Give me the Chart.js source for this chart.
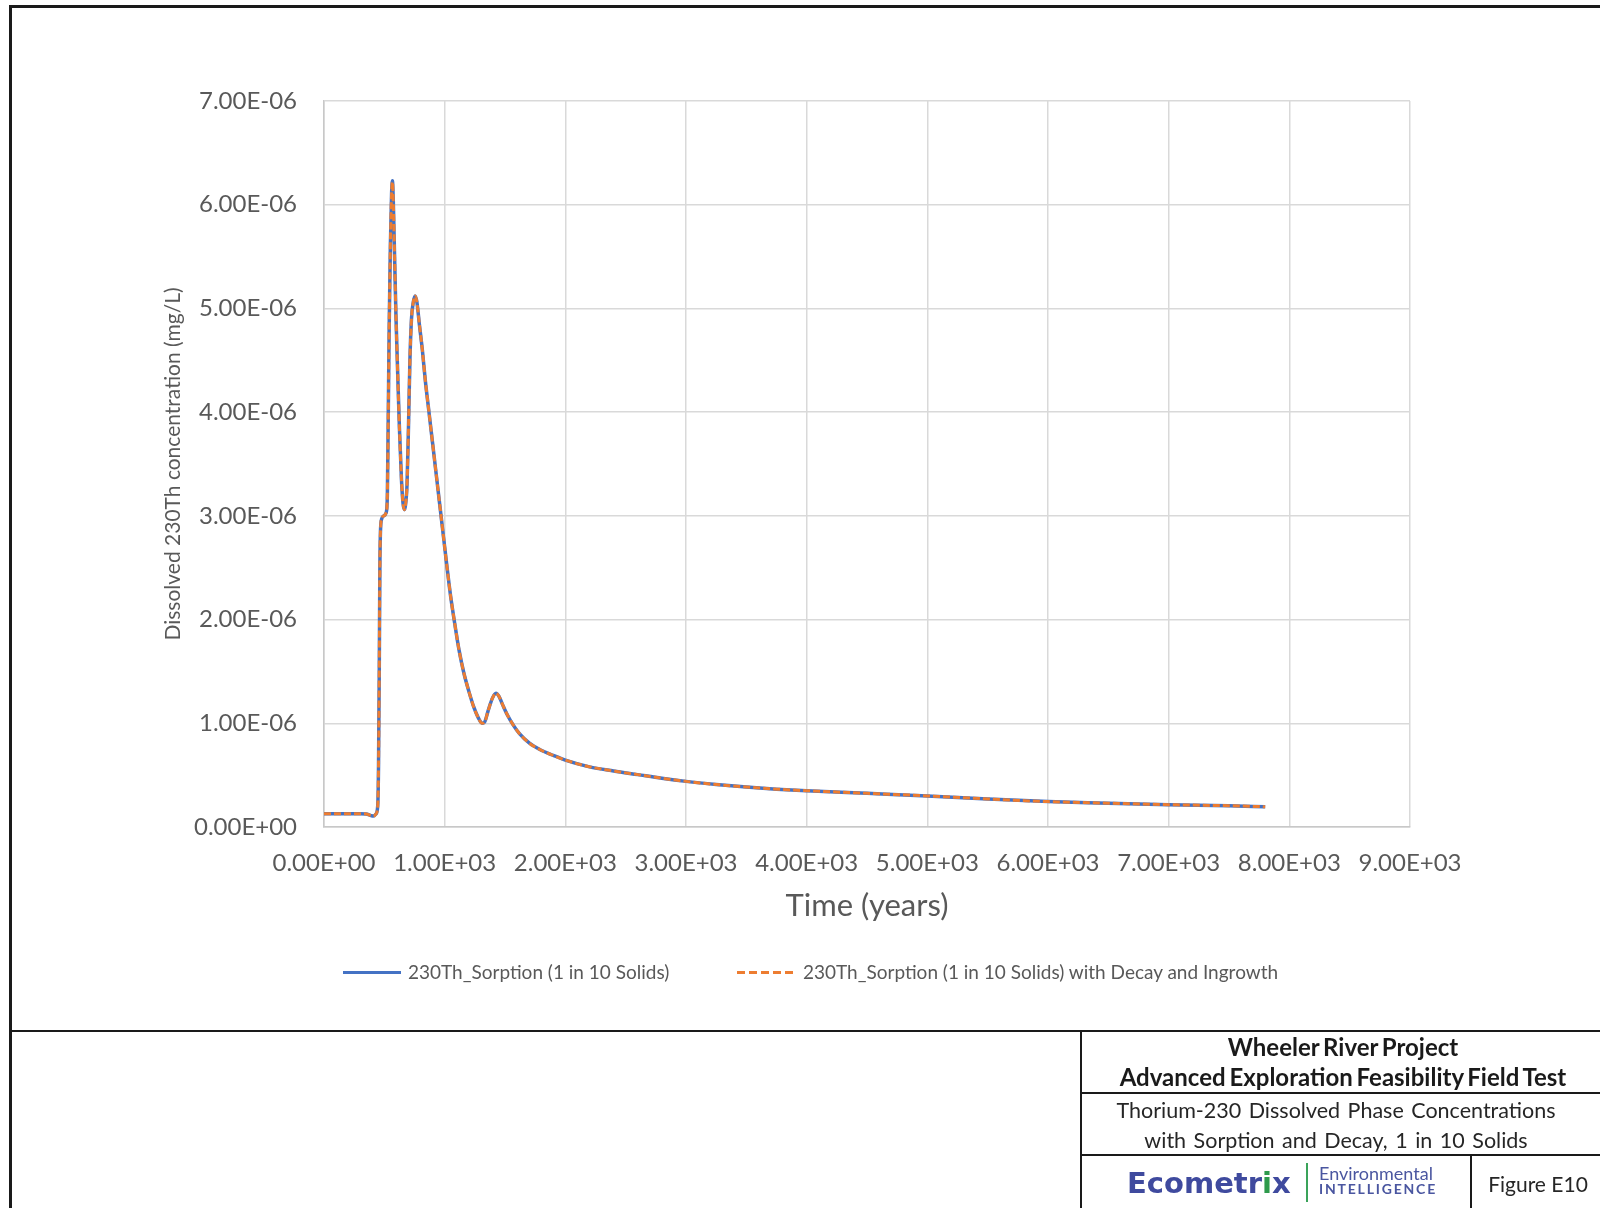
<!DOCTYPE html>
<html>
<head>
<meta charset="utf-8">
<script src="https://cdn.jsdelivr.net/npm/chart.js@4.4.1/dist/chart.umd.min.js"></script>
<style>
    html, body { margin: 0; padding: 0; background: #fff; }
    body { width: 1600px; height: 1208px; position: relative; overflow: hidden; font-family: Lato, "Open Sans", sans-serif; }
    #chart { position: absolute; left: 0; top: 0; }
    .rule { position: absolute; background: #1a1a1a; }
    .txt { position: absolute; white-space: nowrap; color: #1a1a1a; text-align: center; }
    .legend-text { position: absolute; font-size: 19px; color: #595959; white-space: nowrap; line-height: 22px; }
</style>
</head>
<body>
<canvas id="chart" width="1600" height="1030"></canvas>

<!-- page frame -->
<div class="rule" style="left:9px; top:5px; width:1600px; height:3px;"></div>
<div class="rule" style="left:9px; top:5px; width:3px; height:1210px;"></div>
<div class="rule" style="left:9px; top:1030px; width:1600px; height:2px;"></div>
<div class="rule" style="left:1080px; top:1030px; width:2px; height:180px;"></div>
<div class="rule" style="left:1080px; top:1092px; width:530px; height:2px;"></div>
<div class="rule" style="left:1080px; top:1154px; width:530px; height:2px;"></div>
<div class="rule" style="left:1470px; top:1154px; width:2px; height:60px;"></div>

<!-- legend -->
<div style="position:absolute; left:343px; top:971px; width:58px; height:3px; background:#4472C4;"></div>
<div class="legend-text" style="left:408px; top:961px;">230Th_Sorption (1 in 10 Solids)</div>
<div style="position:absolute; left:737px; top:971px; width:59px; height:3px; background:repeating-linear-gradient(90deg, #ED7D31 0 8px, transparent 8px 12px);"></div>
<div class="legend-text" style="left:803px; top:961px;">230Th_Sorption (1 in 10 Solids) with Decay and Ingrowth</div>

<!-- title block -->
<div class="txt" style="left:1082px; width:522px; top:1032px; font-weight:bold; font-size:24px; line-height:30px; word-spacing:-2px;">Wheeler River Project<br>Advanced Exploration Feasibility Field Test</div>
<div class="txt" style="left:1075px; width:522px; top:1095px; font-size:21.5px; line-height:30px; word-spacing:2px; color:#262626;">Thorium-230 Dissolved Phase Concentrations<br>with Sorption and Decay, 1 in 10 Solids</div>
<div class="txt" style="left:1472px; width:132px; top:1170px; font-size:21px; line-height:28px; color:#262626;">Figure E10</div>
<div class="txt" style="left:1127px; top:1166px; font-family:'DejaVu Sans'; font-weight:bold; font-size:29px; line-height:34px; color:#3f4a9e;">Ecometr<span style="color:#2e9a4c;">i</span>x</div>
<div style="position:absolute; left:1306px; top:1163px; width:2px; height:39px; background:#3aa35a;"></div>
<div class="txt" style="left:1319px; top:1165px; font-size:18px; line-height:16px; color:#4a56a0; text-align:left;">Environmental</div>
<div class="txt" style="left:1319px; top:1182px; font-size:14px; line-height:14px; font-weight:bold; letter-spacing:1.8px; color:#4a56a0; text-align:left;">INTELLIGENCE</div>

<script>
// Time (years) sample points
const timeYears = [
    0, 100, 200, 300, 350, 390, 410, 430, 445, 452, 458, 463, 468, 478, 495, 515,
    525, 532, 540, 550, 560, 567, 575, 585, 597, 610, 625, 642, 655, 666, 675, 688,
    700, 712, 725, 740, 755, 770, 790, 815, 840, 870, 900, 930, 960, 990, 1020, 1050,
    1085, 1120, 1160, 1200, 1240, 1280, 1310, 1330, 1360, 1395, 1425, 1450, 1480, 1520,
    1570, 1620, 1700, 1800, 1900, 2000, 2200, 2400, 2600, 2800, 3000, 3250, 3500, 3750,
    4000, 4500, 5000, 5500, 6000, 6500, 7000, 7500, 7800
];

// Dissolved 230Th (mg/L), sorption only
const sorptionConc = [
    1.28e-7, 1.28e-7, 1.28e-7, 1.28e-7, 1.26e-7, 1.10e-7, 1.05e-7, 1.25e-7, 2.0e-7, 6.0e-7, 1.5e-6, 2.5e-6, 2.85e-6, 2.97e-6, 3.0e-6, 3.03e-6,
    3.2e-6, 3.9e-6, 4.8e-6, 5.6e-6, 6.1e-6, 6.23e-6, 6.0e-6, 5.5e-6, 4.9e-6, 4.4e-6, 3.85e-6, 3.35e-6, 3.12e-6, 3.06e-6, 3.1e-6, 3.3e-6,
    3.85e-6, 4.5e-6, 4.9e-6, 5.06e-6, 5.12e-6, 5.06e-6, 4.85e-6, 4.6e-6, 4.3e-6, 4.0e-6, 3.7e-6, 3.4e-6, 3.1e-6, 2.8e-6, 2.5e-6, 2.22e-6,
    1.95e-6, 1.70e-6, 1.48e-6, 1.31e-6, 1.16e-6, 1.05e-6, 1.0e-6, 1.01e-6, 1.12e-6, 1.24e-6, 1.29e-6, 1.26e-6, 1.18e-6, 1.08e-6,
    9.8e-7, 9.0e-7, 8.1e-7, 7.4e-7, 6.9e-7, 6.45e-7, 5.8e-7, 5.4e-7, 5.05e-7, 4.7e-7, 4.4e-7, 4.1e-7, 3.85e-7, 3.65e-7,
    3.5e-7, 3.25e-7, 3.0e-7, 2.7e-7, 2.45e-7, 2.3e-7, 2.15e-7, 2.05e-7, 1.95e-7
];

// Dissolved 230Th (mg/L), sorption with decay and ingrowth
const decayConc = [
    1.28e-7, 1.28e-7, 1.28e-7, 1.28e-7, 1.26e-7, 1.10e-7, 1.05e-7, 1.25e-7, 2.0e-7, 6.0e-7, 1.5e-6, 2.5e-6, 2.85e-6, 2.97e-6, 3.0e-6, 3.03e-6,
    3.2e-6, 3.9e-6, 4.8e-6, 5.6e-6, 6.1e-6, 6.22e-6, 6.0e-6, 5.5e-6, 4.9e-6, 4.4e-6, 3.85e-6, 3.35e-6, 3.12e-6, 3.06e-6, 3.1e-6, 3.3e-6,
    3.85e-6, 4.5e-6, 4.9e-6, 5.06e-6, 5.12e-6, 5.06e-6, 4.85e-6, 4.6e-6, 4.3e-6, 4.0e-6, 3.7e-6, 3.4e-6, 3.1e-6, 2.8e-6, 2.5e-6, 2.22e-6,
    1.95e-6, 1.70e-6, 1.48e-6, 1.31e-6, 1.16e-6, 1.05e-6, 1.0e-6, 1.01e-6, 1.12e-6, 1.24e-6, 1.29e-6, 1.26e-6, 1.18e-6, 1.08e-6,
    9.8e-7, 9.0e-7, 8.1e-7, 7.4e-7, 6.9e-7, 6.45e-7, 5.8e-7, 5.4e-7, 5.05e-7, 4.7e-7, 4.4e-7, 4.1e-7, 3.85e-7, 3.65e-7,
    3.5e-7, 3.25e-7, 3.0e-7, 2.7e-7, 2.45e-7, 2.3e-7, 2.15e-7, 2.05e-7, 1.95e-7
];

const xTickStep = 1000;
const xMax = 9000;
const yTickStep = 1e-6;
const yMax = 7e-6;

// Excel style scientific label, e.g. 7.00E-06
const sci = (v) => {
    const [m, e] = Number(v).toExponential(2).split('e');
    return m + 'E' + e[0] + e.slice(1).padStart(2, '0');
};

const toPoints = (ys) => timeYears.map((t, i) => ({ x: t, y: ys[i] }));

const gray = '#595959';
const gridColor = '#d9d9d9';

new Chart(document.getElementById('chart').getContext('2d'), {
    type: 'line',
    data: {
        datasets: [
            {
                label: '230Th_Sorption (1 in 10 Solids)',
                data: toPoints(sorptionConc),
                borderColor: '#4472C4',
                borderWidth: 3.5,
                pointRadius: 0,
                cubicInterpolationMode: 'monotone',
                order: 2
            },
            {
                // dashed series sits on top of the solid one
                label: '230Th_Sorption (1 in 10 Solids) with Decay and Ingrowth',
                data: toPoints(decayConc),
                borderColor: '#ED7D31',
                borderWidth: 3,
                borderDash: [7, 3],
                pointRadius: 0,
                cubicInterpolationMode: 'monotone',
                order: 1
            }
        ]
    },
    options: {
        responsive: false,
        animation: false,
        devicePixelRatio: 1,
        layout: { padding: { left: 0, top: 101, right: 190, bottom: 93 } },
        plugins: { legend: { display: false }, tooltip: { enabled: false } },
        scales: {
            x: {
                type: 'linear',
                min: 0,
                max: xMax,
                afterFit: (scale) => { scale.height = 110; },
                ticks: {
                    stepSize: xTickStep,
                    padding: 22,
                    color: gray,
                    font: { family: 'Lato', size: 24 },
                    maxRotation: 0,
                    callback: sci
                },
                grid: { color: gridColor, lineWidth: 1.5, drawTicks: false },
                border: { color: '#c8c8c8', width: 1.5 },
                title: {
                    display: true,
                    text: 'Time (years)',
                    color: gray,
                    font: { family: 'Lato', size: 31 },
                    padding: { top: 0, bottom: 12 }
                }
            },
            y: {
                min: 0,
                max: yMax,
                afterFit: (scale) => { scale.width = 324; },
                ticks: {
                    stepSize: yTickStep,
                    padding: 27,
                    color: gray,
                    font: { family: 'Lato', size: 24 },
                    callback: sci
                },
                grid: { color: gridColor, lineWidth: 1.5, drawTicks: false },
                border: { color: '#c8c8c8', width: 1.5 },
                title: {
                    display: true,
                    text: 'Dissolved 230Th concentration (mg/L)',
                    color: gray,
                    font: { family: 'Lato', size: 21 },
                    padding: { top: 161, bottom: 0 }
                }
            }
        }
    }
});
</script>
</body>
</html>
